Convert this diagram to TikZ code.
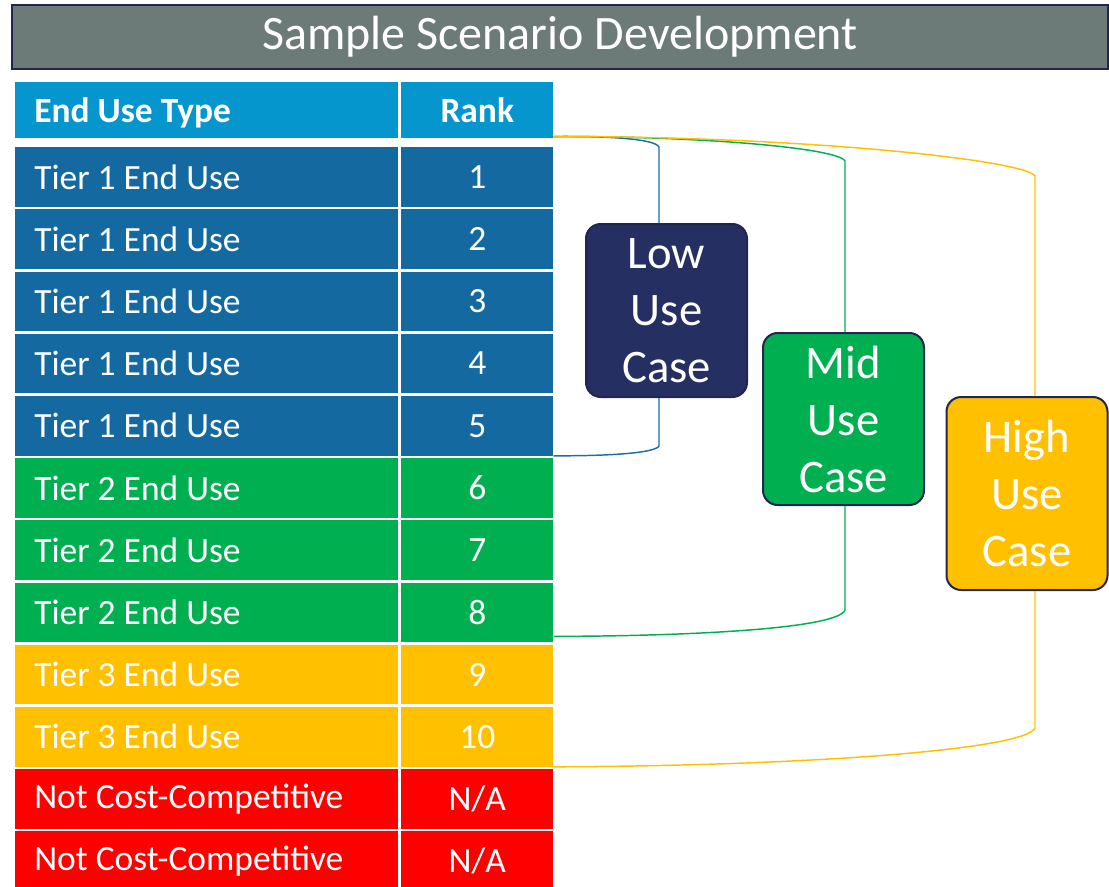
\documentclass[tikz,border=0pt]{standalone}
\usepackage{fontspec}
\setmainfont{Carlito}
\usetikzlibrary{calc}
\definecolor{titlegray}{RGB}{109,123,120}
\definecolor{navy}{RGB}{32,38,80}
\definecolor{lownavy}{RGB}{38,47,97}
\definecolor{headblue}{RGB}{5,150,206}
\definecolor{tierone}{RGB}{20,106,160}
\definecolor{tiertwo}{RGB}{0,176,80}
\definecolor{tierthree}{RGB}{255,192,0}
\definecolor{nored}{RGB}{255,0,0}
\definecolor{lineblue}{RGB}{30,110,165}
\tikzset{
  cellL/.style={rectangle, inner xsep=14.25pt, inner ysep=0pt, text width=258.75pt,
    align=flush left, minimum height=44.6pt, text=white, anchor=north west,
    font=\fontsize{26.6}{32}\selectfont},
  cellR/.style={rectangle, inner sep=0pt, text width=114pt, align=flush center,
    minimum height=44.6pt, text=white, anchor=north west,
    font=\fontsize{26.6}{32}\selectfont},
  headcell/.style={fill=headblue, minimum height=42pt, text depth=0pt,
    font=\fontsize{26.6}{32}\selectfont\bfseries},
  usecase/.style={rectangle, rounded corners=11pt, draw=navy, line width=1.5pt,
    text=white, align=center, inner sep=0pt, minimum width=120.75pt,
    font=\fontsize{35}{42.75}\selectfont},
  link/.style={line width=1.1pt}
}
\begin{document}
\begin{tikzpicture}[x=0.75pt, y=-0.75pt]
\useasboundingbox (0,0) rectangle (1109,886);

% title bar
\node[rectangle, fill=titlegray, draw=navy, line width=1.5pt, minimum width=822pt,
  minimum height=48pt, text=white, inner sep=0pt, font=\fontsize{36}{40}\selectfont]
  (title) at (560,37) {Sample Scenario Development};

% header row
\node[cellL, headcell] (l0) at (15,82) {End Use Type};
\node[cellR, headcell] (r0) at (401,82) {Rank};

% table body
\foreach \i/\lab/\rk/\col in {
  1/Tier 1 End Use/1/tierone, 2/Tier 1 End Use/2/tierone, 3/Tier 1 End Use/3/tierone,
  4/Tier 1 End Use/4/tierone, 5/Tier 1 End Use/5/tierone,
  6/Tier 2 End Use/6/tiertwo, 7/Tier 2 End Use/7/tiertwo, 8/Tier 2 End Use/8/tiertwo,
  9/Tier 3 End Use/9/tierthree, 10/Tier 3 End Use/10/tierthree,
  11/Not Cost-Competitive/N\slash A/nored, 12/Not Cost-Competitive/N\slash A/nored}{
  \pgfmathsetmacro{\top}{147+(\i-1)*62.2}
  \node[cellL, fill=\col] (l\i) at (15,\top) {\lab};
  \node[cellR, fill=\col] (r\i) at (401,\top) {\rk};
}

% use-case boxes
\node[usecase, fill=lownavy, minimum height=129.75pt] (low) at (666.5,310.5) {Low\\Use\\Case};
\node[usecase, fill=tiertwo, minimum height=129pt] (mid) at (843.5,419) {Mid\\Use\\Case};
\node[usecase, fill=tierthree, minimum height=144.75pt] (high) at (1027,493.5) {High\\Use\\Case};

% bracket columns
\coordinate (lowx) at (659,0);
\coordinate (midx) at (845,0);
\coordinate (highx) at (1035,0);
\coordinate (start) at ($(r0.south east)+(0,-2)$);

% low bracket: header to end of row 5
\draw[link, lineblue] (start) .. controls (610,136) and (655,139) .. (659,147)
  -- (lowx |- low.north);
\draw[link, lineblue] (lowx |- low.south) -- (659,446)
  .. controls (655,453) and (610,456) .. (r5.south east);

% mid bracket: header to end of row 8
\draw[link, tiertwo] (start) .. controls (700,136) and (838,148) .. (845,161)
  -- (midx |- mid.north);
\draw[link, tiertwo] (midx |- mid.south) -- (845,610)
  .. controls (838,628) and (700,636) .. ($(r8.south east)+(0,-6)$);

% high bracket: header to end of row 10
\draw[link, tierthree] (start) .. controls (800,136) and (1025,160) .. (1035,176)
  -- (highx |- high.north);
\draw[link, tierthree] (highx |- high.south) -- (1035,728)
  .. controls (1025,750) and (800,766) .. (r10.south east);
\end{tikzpicture}
\end{document}
